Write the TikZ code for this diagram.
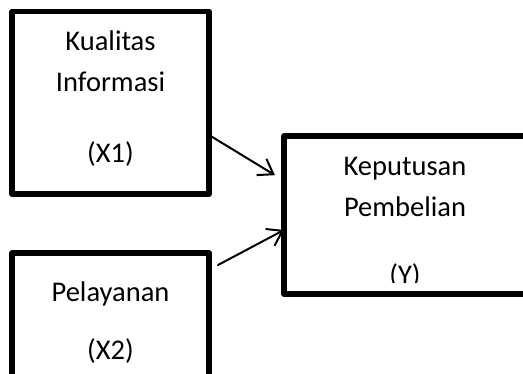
\documentclass[tikz,border=0pt]{standalone}
\usepackage{fontspec}
\setmainfont{Carlito}
\usetikzlibrary{arrows.meta}
\begin{document}
\begin{tikzpicture}[x=1pt,y=-1pt,
  box/.style={draw=black, line width=5.5pt, inner sep=0pt, outer sep=0pt, line join=round},
  lbl/.style={anchor=base, inner sep=0pt, font=\fontsize{28.5}{34}\selectfont},
  arr/.style={line width=2pt, line cap=round, -{Straight Barb[length=14pt,width=19pt,line width=2pt]}}]
\useasboundingbox (0,0) rectangle (523,374);
\clip (0,0) rectangle (523,374);
\node[box, minimum width=197pt, minimum height=182.5pt] (b1) at (110.5,102.75) {};
\node[box, minimum width=197pt, minimum height=183pt] (b2) at (110.5,344.5) {};
\node[box, minimum width=242pt, minimum height=158pt] (b3) at (405,215) {};
\node[lbl] (t1a) at (110.5,51) {Kualitas};
\node[lbl] (t1b) at (110.5,92) {Informasi};
\node[lbl] (t1c) at (110.5,163) {(X1)};
\node[lbl] (t2a) at (110.5,302) {Pelayanan};
\node[lbl] (t2b) at (110.5,360) {(X2)};
\node[lbl] (t3a) at (405,176) {Keputusan};
\node[lbl] (t3b) at (405,217) {Pembelian};
\begin{scope}
\clip (284,136) rectangle (526,283);
\node[lbl] (t3c) at (405,285) {(Y)};
\end{scope}
\draw[arr, shorten >=10.6pt] ([yshift=-32.25pt]b1.east) -- ([yshift=34.3pt]b3.west);
\draw[arr, shorten <=10.2pt] ([yshift=74.7pt]b2.east) -- ([yshift=-15pt]b3.west);
\end{tikzpicture}
\end{document}
